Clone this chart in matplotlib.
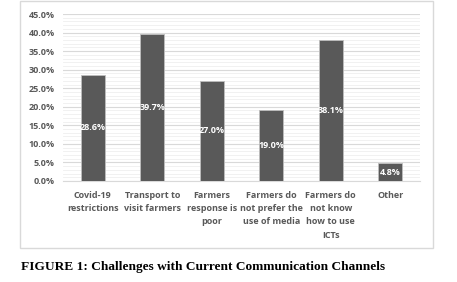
import matplotlib
matplotlib.use("Agg")
import matplotlib.pyplot as plt
from matplotlib.patches import Rectangle
from matplotlib.ticker import MultipleLocator, FuncFormatter

categories = ["Covid-19\nrestrictions", "Transport to\nvisit farmers", "Farmers\nresponse is\npoor",
              "Farmers do\nnot prefer the\nuse of media", "Farmers do\nnot know\nhow to use\nICTs", "Other"]
values = [28.6, 39.7, 27.0, 19.0, 38.1, 4.8]

W, H = 457, 282
fig = plt.figure(figsize=(W / 100, H / 100), dpi=100)
fig.patch.set_facecolor("white")

# outer chart frame
fig.patches.append(Rectangle((20 / W, 1 - 248 / H), 413 / W, 247 / H, transform=fig.transFigure,
                             fill=False, edgecolor="#d9d9d9", linewidth=1.0))

ax = fig.add_axes([63 / W, 1 - 181 / H, 357 / W, 167 / H])
x = range(len(values))
bars = ax.bar(x, values, width=0.4, color="#595959", edgecolor="#bfbfbf", linewidth=0.6, zorder=3)
ax.set_xlim(-0.5, len(values) - 0.5)
ax.set_ylim(0, 45)
ax.yaxis.set_major_locator(MultipleLocator(5))
ax.yaxis.set_minor_locator(MultipleLocator(1))
ax.yaxis.set_major_formatter(FuncFormatter(lambda v, p: f"{v:.1f}%"))
ax.grid(axis="y", which="major", color="#d9d9d9", linewidth=0.8, zorder=0)
ax.grid(axis="y", which="minor", color="#efefef", linewidth=0.6, zorder=0)
for s in ["top", "right", "left"]:
    ax.spines[s].set_visible(False)
ax.spines["bottom"].set_color("#d9d9d9")
ax.tick_params(axis="both", which="both", length=0)
ax.tick_params(axis="y", pad=6, labelsize=6.5, labelcolor="#595959")
ax.set_xticks(list(x))
ax.set_xticklabels(categories, fontsize=6.5, color="#595959", linespacing=1.62, va="top")
ax.tick_params(axis="x", pad=7)
for lab in ax.get_xticklabels() + ax.get_yticklabels():
    lab.set_fontweight("bold")
    lab.set_family("Open Sans")

for b, v in zip(bars, values):
    ax.text(b.get_x() + b.get_width() / 2, v / 2, f"{v:.1f}%", ha="center", va="center",
            color="white", fontsize=6.5, fontweight="bold", family="Open Sans", zorder=4)

fig.text(21 / W, 1 - 267 / H, "FIGURE 1: Challenges with Current Communication Channels",
         family="Liberation Serif", fontweight="bold", fontsize=9.6, color="black", va="center", ha="left")

fig.savefig("out.png", dpi=100)
